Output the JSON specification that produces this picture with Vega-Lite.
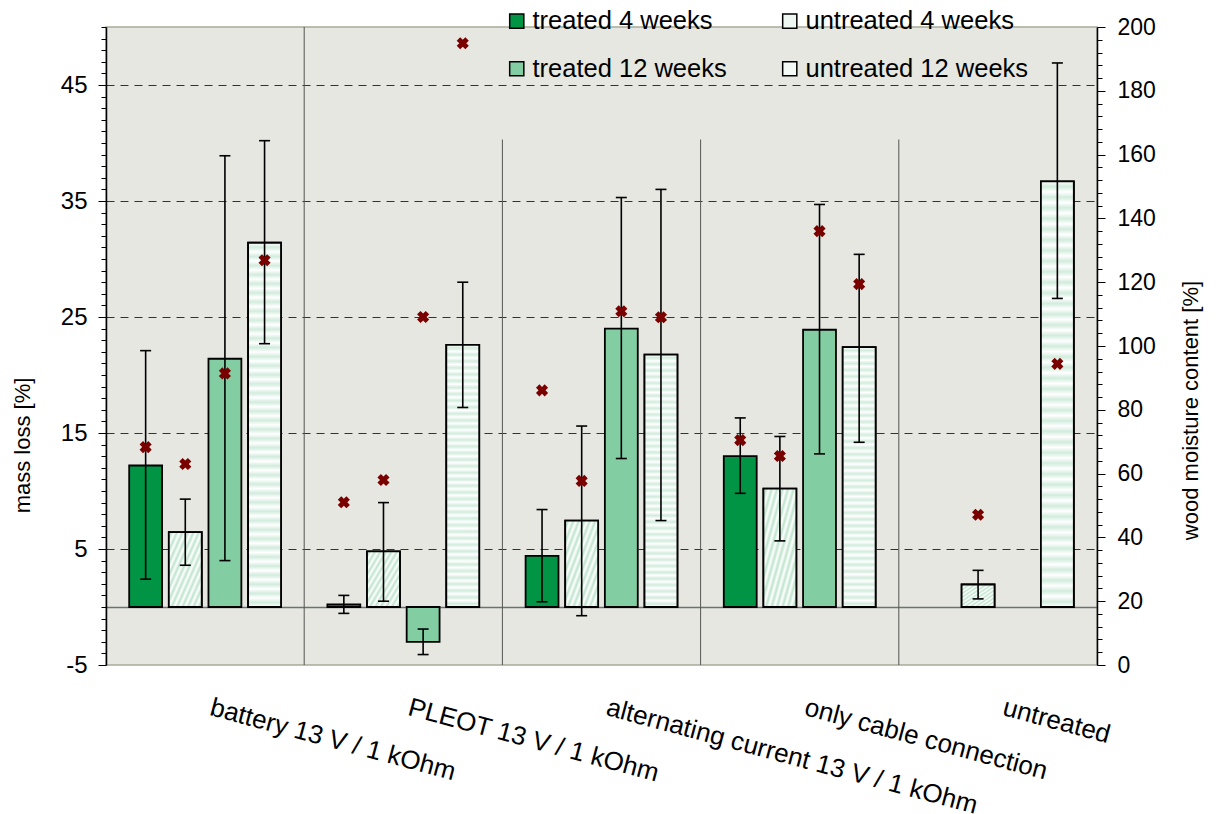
{
  "$schema": "https://vega.github.io/schema/vega-lite/v6.json",
  "width": 991,
  "height": 638,
  "autosize": {"type": "none"},
  "padding": {"left": 106, "top": 27, "right": 122, "bottom": 149},
  "background": "white",
  "config": {
    "view": {"fill": "#e5e7e0", "stroke": "#a7aa99", "strokeWidth": 1.5},
    "axis": {"labelFont": "Liberation Sans", "titleFont": "Liberation Sans", "labelColor": "#000", "titleColor": "#000", "titleFontWeight": "normal", "domainColor": "#000", "tickColor": "#000"},
    "legend": {"labelFont": "Liberation Sans", "labelColor": "#000"}
  },
  "data": {
    "values": [
      {"cat": "battery 13 V / 1 kOhm", "series": "treated 4 weeks", "mass": 12.2, "lo": 2.4, "hi": 22.1, "moist": 68.3},
      {"cat": "battery 13 V / 1 kOhm", "series": "untreated 4 weeks", "mass": 6.45, "lo": 3.6, "hi": 9.3, "moist": 63.0},
      {"cat": "battery 13 V / 1 kOhm", "series": "treated 12 weeks", "mass": 21.4, "lo": 4.0, "hi": 38.9, "moist": 91.4},
      {"cat": "battery 13 V / 1 kOhm", "series": "untreated 12 weeks", "mass": 31.4, "lo": 22.7, "hi": 40.2, "moist": 126.9},
      {"cat": "PLEOT 13 V / 1 kOhm", "series": "treated 4 weeks", "mass": 0.23, "lo": -0.55, "hi": 1.0, "moist": 51.0},
      {"cat": "PLEOT 13 V / 1 kOhm", "series": "untreated 4 weeks", "mass": 4.8, "lo": 0.5, "hi": 9.0, "moist": 58.0},
      {"cat": "PLEOT 13 V / 1 kOhm", "series": "treated 12 weeks", "mass": -3.0, "lo": -4.1, "hi": -1.9, "moist": 109.1},
      {"cat": "PLEOT 13 V / 1 kOhm", "series": "untreated 12 weeks", "mass": 22.6, "lo": 17.2, "hi": 28.0, "moist": 194.9},
      {"cat": "alternating current 13 V / 1 kOhm", "series": "treated 4 weeks", "mass": 4.4, "lo": 0.45, "hi": 8.4, "moist": 86.1},
      {"cat": "alternating current 13 V / 1 kOhm", "series": "untreated 4 weeks", "mass": 7.45, "lo": -0.75, "hi": 15.6, "moist": 57.7},
      {"cat": "alternating current 13 V / 1 kOhm", "series": "treated 12 weeks", "mass": 24.0, "lo": 12.8, "hi": 35.3, "moist": 110.9},
      {"cat": "alternating current 13 V / 1 kOhm", "series": "untreated 12 weeks", "mass": 21.75, "lo": 7.45, "hi": 36.0, "moist": 109.0},
      {"cat": "only cable connection", "series": "treated 4 weeks", "mass": 13.0, "lo": 9.8, "hi": 16.3, "moist": 70.5},
      {"cat": "only cable connection", "series": "untreated 4 weeks", "mass": 10.2, "lo": 5.7, "hi": 14.7, "moist": 65.5},
      {"cat": "only cable connection", "series": "treated 12 weeks", "mass": 23.9, "lo": 13.2, "hi": 34.7, "moist": 136.0},
      {"cat": "only cable connection", "series": "untreated 12 weeks", "mass": 22.4, "lo": 14.2, "hi": 30.4, "moist": 119.4},
      {"cat": "untreated", "series": "untreated 4 weeks", "mass": 1.94, "lo": 0.7, "hi": 3.16, "moist": 47.1},
      {"cat": "untreated", "series": "untreated 12 weeks", "mass": 36.7, "lo": 26.6, "hi": 46.9, "moist": 94.4}
    ]
  },
  "layer": [
    {
      "layer": [
        {
          "data": {"values": [
            {"cat": "PLEOT 13 V / 1 kOhm", "y0": -5, "y1": 50},
            {"cat": "alternating current 13 V / 1 kOhm", "y0": -5, "y1": 40.3},
            {"cat": "only cable connection", "y0": -5, "y1": 40.3},
            {"cat": "untreated", "y0": -5, "y1": 40.3}
          ]},
          "mark": {"type": "rule", "color": "#555", "strokeWidth": 1},
          "encoding": {
            "x": {"field": "cat", "type": "nominal", "bandPosition": 0, "title": null, "scale": {"domain": ["battery 13 V / 1 kOhm", "PLEOT 13 V / 1 kOhm", "alternating current 13 V / 1 kOhm", "only cable connection", "untreated"], "paddingInner": 0, "paddingOuter": 0}},
            "y": {"field": "y0", "type": "quantitative", "title": "mass loss [%]", "scale": {"domain": [-5, 50], "nice": false, "zero": false}},
            "y2": {"field": "y1"}
          }
        },
        {
          "mark": {"type": "bar", "stroke": "#000", "strokeWidth": 1.8},
          "encoding": {
            "x": {"field": "cat", "type": "nominal", "title": null, "scale": {"domain": ["battery 13 V / 1 kOhm", "PLEOT 13 V / 1 kOhm", "alternating current 13 V / 1 kOhm", "only cable connection", "untreated"], "paddingInner": 0, "paddingOuter": 0},
              "axis": {"orient": "bottom", "domain": false, "ticks": false, "labelAngle": 15, "labelAlign": "left", "labelBaseline": "top", "labelFontSize": 26, "labelPadding": 29, "labelOffset": 9, "labelLimit": 0, "grid": false}},
            "xOffset": {"field": "series", "type": "nominal", "scale": {"domain": ["treated 4 weeks", "untreated 4 weeks", "treated 12 weeks", "untreated 12 weeks"], "paddingInner": 0.17, "paddingOuter": 0.585}},
            "y": {"field": "mass", "type": "quantitative", "title": "mass loss [%]", "scale": {"domain": [-5, 50], "nice": false, "zero": false},
              "axis": {
                "orient": "left",
                "values": [-5,-4,-3,-2,-1,0,1,2,3,4,5,6,7,8,9,10,11,12,13,14,15,16,17,18,19,20,21,22,23,24,25,26,27,28,29,30,31,32,33,34,35,36,37,38,39,40,41,42,43,44,45,46,47,48,49,50],
                "tickCount": 1000,
                "labelExpr": "(datum.value + 5) % 10 == 0 ? '' + datum.value : ''",
                "labelOverlap": false,
                "labelBound": false,
                "labelFlush": false,
                "labelFontSize": 24,
                "labelPadding": 11,
                "tickSize": {"condition": {"test": "(datum.value + 5) % 10 == 0", "value": 8}, "value": 5},
                "tickWidth": 1,
                "domainWidth": 1.5,
                "titleFontSize": 22,
                "titlePadding": 26,
                "titleY": 418,
                "grid": true,
                "gridOpacity": {"condition": {"test": "((datum.value + 5) % 10 == 0 && datum.value > -5) || datum.value == 0", "value": 1}, "value": 0},
                "gridDash": {"condition": {"test": "datum.value == 0", "value": []}, "value": [8, 6]},
                "gridColor": {"condition": {"test": "datum.value == 0", "value": "#707070"}, "value": "#333333"},
                "gridWidth": {"condition": {"test": "datum.value == 0", "value": 1.5}, "value": 1}
              }},
            "color": {"field": "series", "type": "nominal",
              "scale": {"domain": ["treated 4 weeks", "untreated 4 weeks", "treated 12 weeks", "untreated 12 weeks"], "range": ["#009444", "#eef7f1", "#82cda2", "#f4faf6"]},
              "legend": {"orient": "none", "legendX": 398, "legendY": -19, "direction": "horizontal", "columns": 2, "title": null, "symbolType": "square", "symbolSize": 200, "symbolStrokeColor": "#000", "symbolStrokeWidth": 1.5, "symbolOpacity": 1, "labelFontSize": 25.5, "labelOffset": 3, "rowPadding": 21, "columnPadding": 50, "padding": 0, "labelLimit": 0}}
          }
        },
        {
          "transform": [{"filter": "datum.series == 'untreated 4 weeks'"}],
          "mark": {"type": "bar", "stroke": "#000", "strokeWidth": 1.8,
            "fill": {"gradient": "linear", "x1": 0, "y1": 0, "x2": 1, "y2": 1, "stops": [
              {"offset": 0, "color": "#ffffff"}, {"offset": 0.0417, "color": "#bfe4cd"}, {"offset": 0.0833, "color": "#ffffff"}, {"offset": 0.125, "color": "#bfe4cd"},
              {"offset": 0.1667, "color": "#ffffff"}, {"offset": 0.2083, "color": "#bfe4cd"}, {"offset": 0.25, "color": "#ffffff"}, {"offset": 0.2917, "color": "#bfe4cd"},
              {"offset": 0.3333, "color": "#ffffff"}, {"offset": 0.375, "color": "#bfe4cd"}, {"offset": 0.4167, "color": "#ffffff"}, {"offset": 0.4583, "color": "#bfe4cd"},
              {"offset": 0.5, "color": "#ffffff"}, {"offset": 0.5417, "color": "#bfe4cd"}, {"offset": 0.5833, "color": "#ffffff"}, {"offset": 0.625, "color": "#bfe4cd"},
              {"offset": 0.6667, "color": "#ffffff"}, {"offset": 0.7083, "color": "#bfe4cd"}, {"offset": 0.75, "color": "#ffffff"}, {"offset": 0.7917, "color": "#bfe4cd"},
              {"offset": 0.8333, "color": "#ffffff"}, {"offset": 0.875, "color": "#bfe4cd"}, {"offset": 0.9167, "color": "#ffffff"}, {"offset": 0.9583, "color": "#bfe4cd"},
              {"offset": 1, "color": "#ffffff"}
            ]}},
          "encoding": {
            "x": {"field": "cat", "type": "nominal", "title": null, "scale": {"domain": ["battery 13 V / 1 kOhm", "PLEOT 13 V / 1 kOhm", "alternating current 13 V / 1 kOhm", "only cable connection", "untreated"], "paddingInner": 0, "paddingOuter": 0}},
            "xOffset": {"field": "series", "type": "nominal", "scale": {"domain": ["treated 4 weeks", "untreated 4 weeks", "treated 12 weeks", "untreated 12 weeks"], "paddingInner": 0.17, "paddingOuter": 0.585}},
            "y": {"field": "mass", "type": "quantitative", "title": "mass loss [%]", "scale": {"domain": [-5, 50], "nice": false, "zero": false}}
          }
        },
        {
          "transform": [{"filter": "datum.series == 'untreated 12 weeks'"}],
          "mark": {"type": "bar", "stroke": "#000", "strokeWidth": 1.8,
            "fill": {"gradient": "linear", "x1": 0, "y1": 0, "x2": 0, "y2": 1, "stops": [
              {"offset": 0, "color": "#ffffff"}, {"offset": 0.0125, "color": "#d2ecdd"}, {"offset": 0.025, "color": "#ffffff"}, {"offset": 0.0375, "color": "#d2ecdd"},
              {"offset": 0.05, "color": "#ffffff"}, {"offset": 0.0625, "color": "#d2ecdd"}, {"offset": 0.075, "color": "#ffffff"}, {"offset": 0.0875, "color": "#d2ecdd"},
              {"offset": 0.1, "color": "#ffffff"}, {"offset": 0.1125, "color": "#d2ecdd"}, {"offset": 0.125, "color": "#ffffff"}, {"offset": 0.1375, "color": "#d2ecdd"},
              {"offset": 0.15, "color": "#ffffff"}, {"offset": 0.1625, "color": "#d2ecdd"}, {"offset": 0.175, "color": "#ffffff"}, {"offset": 0.1875, "color": "#d2ecdd"},
              {"offset": 0.2, "color": "#ffffff"}, {"offset": 0.2125, "color": "#d2ecdd"}, {"offset": 0.225, "color": "#ffffff"}, {"offset": 0.2375, "color": "#d2ecdd"},
              {"offset": 0.25, "color": "#ffffff"}, {"offset": 0.2625, "color": "#d2ecdd"}, {"offset": 0.275, "color": "#ffffff"}, {"offset": 0.2875, "color": "#d2ecdd"},
              {"offset": 0.3, "color": "#ffffff"}, {"offset": 0.3125, "color": "#d2ecdd"}, {"offset": 0.325, "color": "#ffffff"}, {"offset": 0.3375, "color": "#d2ecdd"},
              {"offset": 0.35, "color": "#ffffff"}, {"offset": 0.3625, "color": "#d2ecdd"}, {"offset": 0.375, "color": "#ffffff"}, {"offset": 0.3875, "color": "#d2ecdd"},
              {"offset": 0.4, "color": "#ffffff"}, {"offset": 0.4125, "color": "#d2ecdd"}, {"offset": 0.425, "color": "#ffffff"}, {"offset": 0.4375, "color": "#d2ecdd"},
              {"offset": 0.45, "color": "#ffffff"}, {"offset": 0.4625, "color": "#d2ecdd"}, {"offset": 0.475, "color": "#ffffff"}, {"offset": 0.4875, "color": "#d2ecdd"},
              {"offset": 0.5, "color": "#ffffff"}, {"offset": 0.5125, "color": "#d2ecdd"}, {"offset": 0.525, "color": "#ffffff"}, {"offset": 0.5375, "color": "#d2ecdd"},
              {"offset": 0.55, "color": "#ffffff"}, {"offset": 0.5625, "color": "#d2ecdd"}, {"offset": 0.575, "color": "#ffffff"}, {"offset": 0.5875, "color": "#d2ecdd"},
              {"offset": 0.6, "color": "#ffffff"}, {"offset": 0.6125, "color": "#d2ecdd"}, {"offset": 0.625, "color": "#ffffff"}, {"offset": 0.6375, "color": "#d2ecdd"},
              {"offset": 0.65, "color": "#ffffff"}, {"offset": 0.6625, "color": "#d2ecdd"}, {"offset": 0.675, "color": "#ffffff"}, {"offset": 0.6875, "color": "#d2ecdd"},
              {"offset": 0.7, "color": "#ffffff"}, {"offset": 0.7125, "color": "#d2ecdd"}, {"offset": 0.725, "color": "#ffffff"}, {"offset": 0.7375, "color": "#d2ecdd"},
              {"offset": 0.75, "color": "#ffffff"}, {"offset": 0.7625, "color": "#d2ecdd"}, {"offset": 0.775, "color": "#ffffff"}, {"offset": 0.7875, "color": "#d2ecdd"},
              {"offset": 0.8, "color": "#ffffff"}, {"offset": 0.8125, "color": "#d2ecdd"}, {"offset": 0.825, "color": "#ffffff"}, {"offset": 0.8375, "color": "#d2ecdd"},
              {"offset": 0.85, "color": "#ffffff"}, {"offset": 0.8625, "color": "#d2ecdd"}, {"offset": 0.875, "color": "#ffffff"}, {"offset": 0.8875, "color": "#d2ecdd"},
              {"offset": 0.9, "color": "#ffffff"}, {"offset": 0.9125, "color": "#d2ecdd"}, {"offset": 0.925, "color": "#ffffff"}, {"offset": 0.9375, "color": "#d2ecdd"},
              {"offset": 0.95, "color": "#ffffff"}, {"offset": 0.9625, "color": "#d2ecdd"}, {"offset": 0.975, "color": "#ffffff"}, {"offset": 0.9875, "color": "#d2ecdd"},
              {"offset": 1, "color": "#ffffff"}
            ]}},
          "encoding": {
            "x": {"field": "cat", "type": "nominal", "title": null, "scale": {"domain": ["battery 13 V / 1 kOhm", "PLEOT 13 V / 1 kOhm", "alternating current 13 V / 1 kOhm", "only cable connection", "untreated"], "paddingInner": 0, "paddingOuter": 0}},
            "xOffset": {"field": "series", "type": "nominal", "scale": {"domain": ["treated 4 weeks", "untreated 4 weeks", "treated 12 weeks", "untreated 12 weeks"], "paddingInner": 0.17, "paddingOuter": 0.585}},
            "y": {"field": "mass", "type": "quantitative", "title": "mass loss [%]", "scale": {"domain": [-5, 50], "nice": false, "zero": false}}
          }
        },
        {
          "mark": {"type": "rule", "color": "#000", "strokeWidth": 1.6},
          "encoding": {
            "x": {"field": "cat", "type": "nominal", "title": null, "scale": {"domain": ["battery 13 V / 1 kOhm", "PLEOT 13 V / 1 kOhm", "alternating current 13 V / 1 kOhm", "only cable connection", "untreated"], "paddingInner": 0, "paddingOuter": 0}},
            "xOffset": {"field": "series", "type": "nominal", "scale": {"domain": ["treated 4 weeks", "untreated 4 weeks", "treated 12 weeks", "untreated 12 weeks"], "paddingInner": 0.17, "paddingOuter": 0.585}},
            "y": {"field": "lo", "type": "quantitative", "title": "mass loss [%]", "scale": {"domain": [-5, 50], "nice": false, "zero": false}},
            "y2": {"field": "hi"}
          }
        },
        {
          "mark": {"type": "tick", "color": "#000", "thickness": 1.6, "size": 11, "opacity": 1},
          "encoding": {
            "x": {"field": "cat", "type": "nominal", "title": null, "scale": {"domain": ["battery 13 V / 1 kOhm", "PLEOT 13 V / 1 kOhm", "alternating current 13 V / 1 kOhm", "only cable connection", "untreated"], "paddingInner": 0, "paddingOuter": 0}},
            "xOffset": {"field": "series", "type": "nominal", "scale": {"domain": ["treated 4 weeks", "untreated 4 weeks", "treated 12 weeks", "untreated 12 weeks"], "paddingInner": 0.17, "paddingOuter": 0.585}},
            "y": {"field": "lo", "type": "quantitative", "title": "mass loss [%]", "scale": {"domain": [-5, 50], "nice": false, "zero": false}}
          }
        },
        {
          "mark": {"type": "tick", "color": "#000", "thickness": 1.6, "size": 11, "opacity": 1},
          "encoding": {
            "x": {"field": "cat", "type": "nominal", "title": null, "scale": {"domain": ["battery 13 V / 1 kOhm", "PLEOT 13 V / 1 kOhm", "alternating current 13 V / 1 kOhm", "only cable connection", "untreated"], "paddingInner": 0, "paddingOuter": 0}},
            "xOffset": {"field": "series", "type": "nominal", "scale": {"domain": ["treated 4 weeks", "untreated 4 weeks", "treated 12 weeks", "untreated 12 weeks"], "paddingInner": 0.17, "paddingOuter": 0.585}},
            "y": {"field": "hi", "type": "quantitative", "title": "mass loss [%]", "scale": {"domain": [-5, 50], "nice": false, "zero": false}}
          }
        }
      ]
    },
    {
      "mark": {"type": "point", "shape": "cross", "angle": 45, "filled": true, "size": 150, "color": "#7a0000", "opacity": 1},
      "encoding": {
        "x": {"field": "cat", "type": "nominal", "title": null, "scale": {"domain": ["battery 13 V / 1 kOhm", "PLEOT 13 V / 1 kOhm", "alternating current 13 V / 1 kOhm", "only cable connection", "untreated"], "paddingInner": 0, "paddingOuter": 0}},
        "xOffset": {"field": "series", "type": "nominal", "scale": {"domain": ["treated 4 weeks", "untreated 4 weeks", "treated 12 weeks", "untreated 12 weeks"], "paddingInner": 0.17, "paddingOuter": 0.585}},
        "y": {"field": "moist", "type": "quantitative", "title": "wood moisture content [%]", "scale": {"domain": [0, 200], "nice": false, "zero": false},
          "axis": {
            "orient": "right",
            "values": [0,4,8,12,16,20,24,28,32,36,40,44,48,52,56,60,64,68,72,76,80,84,88,92,96,100,104,108,112,116,120,124,128,132,136,140,144,148,152,156,160,164,168,172,176,180,184,188,192,196,200],
            "tickCount": 1000,
            "labelExpr": "datum.value % 20 == 0 ? '' + datum.value : ''",
            "labelOverlap": false,
            "labelBound": false,
            "labelFlush": false,
            "labelFontSize": 23,
            "labelPadding": 12,
            "tickSize": {"condition": {"test": "datum.value % 20 == 0", "value": 8}, "value": 5},
            "tickWidth": 1,
            "domainWidth": 1.5,
            "grid": false,
            "titleFontSize": 22,
            "titleAngle": 270,
            "titlePadding": 47,
            "titleY": 383
          }}
      }
    }
  ],
  "resolve": {"scale": {"y": "independent"}}
}
